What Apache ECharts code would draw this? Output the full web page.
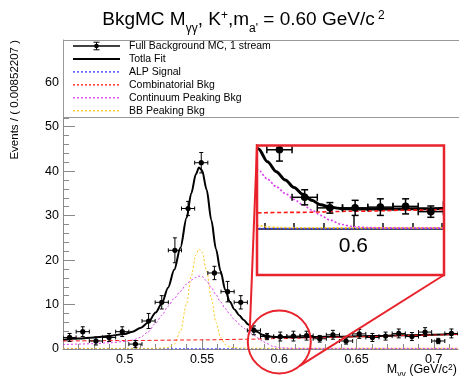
<!DOCTYPE html>
<html><head><meta charset="utf-8">
<script src="https://cdn.jsdelivr.net/npm/echarts@6/dist/echarts.min.js"></script>
<style>html,body{margin:0;padding:0;background:#fff}#c{width:459px;height:376px}</style>
</head><body><div id="c"></div>
<script>
// ---------- data ----------
const binCenters = [0.464261,0.472783,0.481305,0.489827,0.498349,0.506871,0.515393,0.523915,0.532437,0.540959,
  0.549482,0.558004,0.566526,0.575048,0.583570,0.592092,0.600614,0.609136,0.617658,0.626180,
  0.634702,0.643224,0.651746,0.660268,0.668790,0.677312,0.685834,0.694356,0.702878,0.711400];
const binValues = [2.6,3.9,1.8,2.6,3.9,1.1,6.3,10.5,22.2,31.6,
  41.9,17.1,12.9,10.5,4.2,2.8,2.8,2.9,3.0,2.3,
  3.2,1.8,3.4,2.6,2.9,3.5,2.8,3.8,1.8,3.5];
const binErrors = [0.9,1.1,0.9,0.9,1.1,0.8,1.7,1.5,2.8,1.6,
  2.3,1.5,2.3,1.5,1.0,0.7,1.0,1.1,1.0,0.75,
  1.0,0.7,1.0,0.9,0.9,1.0,0.9,1.0,0.6,1.0];
const binWidth = 0.00852207;

const totalX = [0.46,0.47,0.48,0.49,0.50,0.505,0.51,0.515,0.52,0.524,0.528,0.532,0.536,0.54,0.543,0.546,0.548,0.55,0.553,0.556,0.559,0.562,0.565,0.568,0.571,0.574,0.577,0.58,0.583,0.586,0.589,0.592,0.596,0.6,0.61,0.62,0.64,0.66,0.68,0.70,0.715662];
const totalFit = [2.1,2.35,2.6,2.95,3.4,3.9,4.7,5.9,8.2,10.3,13.8,17.8,22.8,29.5,35.0,39.3,40.8,40.2,35.8,29.0,22.5,17.5,13.3,10.6,8.9,7.6,6.5,5.5,4.6,3.8,3.2,2.9,2.7,2.65,2.65,2.68,2.78,2.92,3.07,3.22,3.35];

const alpX = [0.46,0.715662];
const alpSignal = [0.05,0.05];

const combX = [0.46,0.50,0.55,0.58,0.60,0.62,0.65,0.70,0.715662];
const combBkg = [1.8,1.9,2.05,2.2,2.35,2.5,2.75,3.15,3.3];

const contX = [0.46,0.47,0.48,0.49,0.50,0.505,0.51,0.515,0.52,0.524,0.528,0.532,0.536,0.54,0.543,0.546,0.548,0.55,0.553,0.556,0.559,0.562,0.565,0.568,0.571,0.574,0.577,0.58,0.583,0.586,0.589,0.592,0.596,0.6,0.605,0.61,0.65,0.715662];
const contPeakBkg = [1.0,1.1,1.2,1.4,1.7,2.0,2.6,3.8,5.8,7.6,9.6,11.4,13.0,14.6,15.5,16.1,16.4,16.3,15.3,13.8,12.2,10.6,9.1,7.8,6.6,5.6,4.7,3.9,3.2,2.5,1.8,1.2,0.6,0.3,0.2,0.15,0.15,0.15];

const bbX = [0.46,0.52,0.528,0.532,0.536,0.540,0.543,0.546,0.548,0.550,0.553,0.556,0.559,0.562,0.565,0.568,0.571,0.575,0.58,0.60,0.715662];
const bbPeakBkg = [0.15,0.15,0.3,1.1,4.0,10.2,16.3,21.2,22.5,21.8,17.5,11.4,6.0,2.6,1.0,0.45,0.28,0.2,0.17,0.15,0.15];

const xMajorTicks = [0.5,0.55,0.6,0.65,0.7];
const xMinorTicks = [0.47,0.48,0.49,0.51,0.52,0.53,0.54,0.56,0.57,0.58,0.59,0.61,0.62,0.63,0.64,0.66,0.67,0.68,0.69,0.71];
const insetMajorTicks = [0.6];
const insetMinorTicks = [0.57,0.58,0.59,0.61,0.62,0.63];
const legendLabels = ['Full Background MC, 1 stream','Totla Fit','ALP Signal','Combinatorial Bkg','Continuum Peaking Bkg','BB Peaking Bkg'];
const titleText = 'BkgMC M{sub|γγ}, K{sup|+},m{sub|a\'} = 0.60 GeV/c{sup| 2}';
const xTitle = 'M{sub|γγ} (GeV/c{sup|2})';
const yTitle = 'Events / ( 0.00852207 )';

// ---------- styling ----------
const FONT = '"Liberation Sans", Arial, Helvetica, sans-serif';
const C = {total:'#000000', alp:'#3b3bff', comb:'#ff1a1a', cont:'#dd3ef0', bb:'#ffc61a', red:'#e8232b'};
const pair = (xs, ys) => xs.map((x, i) => [x, ys[i]]);
const points = binCenters.map((x, i) => [x, binValues[i], binErrors[i]]);

function pointRenderer(r, lw, cap) {
  return function (params, api) {
    const x = api.value(0), y = api.value(1), e = api.value(2);
    const c = api.coord([x, y]);
    const lo = api.coord([x - binWidth / 2, y]);
    const hi = api.coord([x + binWidth / 2, y]);
    const t = api.coord([x, y + e]);
    const b = api.coord([x, y - e]);
    const st = {stroke:'#000', lineWidth:lw};
    return {type:'group', children:[
      {type:'line', shape:{x1:lo[0], y1:c[1], x2:hi[0], y2:c[1]}, style:st},
      {type:'line', shape:{x1:c[0], y1:t[1], x2:c[0], y2:b[1]}, style:st},
      {type:'line', shape:{x1:lo[0], y1:c[1]-cap, x2:lo[0], y2:c[1]+cap}, style:st},
      {type:'line', shape:{x1:hi[0], y1:c[1]-cap, x2:hi[0], y2:c[1]+cap}, style:st},
      {type:'line', shape:{x1:c[0]-cap, y1:t[1], x2:c[0]+cap, y2:t[1]}, style:st},
      {type:'line', shape:{x1:c[0]-cap, y1:b[1], x2:c[0]+cap, y2:b[1]}, style:st},
      {type:'circle', shape:{cx:c[0], cy:c[1], r:r}, style:{fill:'#000'}}
    ]};
  };
}

function curveSeries(xi, yi, main) {
  const w = main ? 1 : 1.6;
  const base = {type:'line', xAxisIndex:xi, yAxisIndex:yi, showSymbol:false, symbol:'none', smooth:0.3, smoothMonotone:'x', silent:true, animation:false, clip:true};
  return [
    Object.assign({}, base, {name:'total', data:pair(totalX,totalFit), lineStyle:{color:C.total, width: main ? 2 : 3}, z:3}),
    Object.assign({}, base, {name:'alp', data:pair(alpX,alpSignal), lineStyle:{color:C.alp, width:w, type:[2,2]}, z:4}),
    Object.assign({}, base, {name:'bb', data:pair(bbX,bbPeakBkg), lineStyle:{color:C.bb, width:w, type:[2,2]}, z:4}),
    Object.assign({}, base, {name:'cont', data:pair(contX,contPeakBkg), lineStyle:{color:C.cont, width:w, type:[2,2]}, z:4}),
    Object.assign({}, base, {name:'comb', data:pair(combX,combBkg), lineStyle:{color:C.comb, width:w, type:[4,2.5]}, z:4}),
    {type:'custom', xAxisIndex:xi, yAxisIndex:yi, data:points, clip:true, silent:true, animation:false, z:5,
      renderItem: main ? pointRenderer(2.6, 1, 2) : pointRenderer(3.8, 1.5, 3.5)}
  ];
}

const chart = echarts.init(document.getElementById('c'), null, {renderer:'canvas'});
const axisGrey = '#8a8a8a';
chart.setOption({
  animation:false,
  backgroundColor:'#fff',
  textStyle:{fontFamily:FONT},
  grid:[
    {left:63, top:40, right:1, bottom:27, containLabel:false},
    {left:258, top:146, width:185, height:83, containLabel:false}
  ],
  xAxis:[
    {gridIndex:0, type:'value', min:0.46, max:0.715662, position:'bottom',
      axisLine:{show:true, onZero:false, lineStyle:{color:axisGrey, width:1}},
      axisTick:{show:true, inside:true, length:10, customValues:xMajorTicks, lineStyle:{color:axisGrey}},
      axisLabel:{show:true, customValues:xMajorTicks, fontSize:12.5, color:'#000', margin:4, fontFamily:FONT, formatter:v => String(v)},
      splitLine:{show:false}},
    {gridIndex:0, type:'value', min:0.46, max:0.715662, position:'bottom',
      axisLine:{show:false, onZero:false},
      axisTick:{show:true, inside:true, length:5, customValues:xMinorTicks, lineStyle:{color:axisGrey}},
      axisLabel:{show:false}, splitLine:{show:false}},
    {gridIndex:1, type:'value', min:0.5678, max:0.6303, position:'bottom',
      axisLine:{show:true, onZero:false, lineStyle:{color:'#111', width:1.5}},
      axisTick:{show:true, inside:true, length:14, customValues:insetMajorTicks, lineStyle:{color:'#111', width:1.5}},
      axisLabel:{show:true, customValues:insetMajorTicks, fontSize:21, color:'#000', margin:7, fontFamily:FONT, formatter:v => String(v)},
      splitLine:{show:false}},
    {gridIndex:1, type:'value', min:0.5678, max:0.6303, position:'bottom',
      axisLine:{show:false, onZero:false},
      axisTick:{show:true, inside:true, length:6, customValues:insetMinorTicks, lineStyle:{color:'#111', width:1.5}},
      axisLabel:{show:false}, splitLine:{show:false}}
  ],
  yAxis:[
    {gridIndex:0, type:'value', min:0, max:69.5, interval:10, position:'left',
      axisLine:{show:true, onZero:false, lineStyle:{color:axisGrey, width:1}},
      axisTick:{show:true, inside:true, length:12, lineStyle:{color:axisGrey}},
      minorTick:{show:true, splitNumber:5, length:6, lineStyle:{color:axisGrey}},
      axisLabel:{fontSize:12.5, color:'#000', margin:4, fontFamily:FONT, showMaxLabel:false},
      splitLine:{show:false}, minorSplitLine:{show:false}},
    {gridIndex:1, type:'value', min:0, max:11, show:false, splitLine:{show:false}}
  ],
  series:[].concat(curveSeries(0,0,true), curveSeries(2,1,false))
});

// ---------- annotations ----------
const g = [];
g.push({type:'line', shape:{x1:63, y1:40.5, x2:459, y2:40.5}, style:{stroke:axisGrey, lineWidth:1}, z:40});
g.push({type:'rect', shape:{x:63.5, y:40.5, width:396, height:77}, style:{fill:'#fff', stroke:'#999', lineWidth:1}, z:50});
const legendStyles = [
  {stroke:'#000', lineWidth:1.5},
  {stroke:'#000', lineWidth:2},
  {stroke:C.alp, lineWidth:1.3, lineDash:[2,2]},
  {stroke:C.comb, lineWidth:1.3, lineDash:[2,2]},
  {stroke:C.cont, lineWidth:1.3, lineDash:[2,2]},
  {stroke:C.bb, lineWidth:1.3, lineDash:[2,2]}
];
legendLabels.forEach((lab, i) => {
  const y = 46 + 12.95 * i;
  g.push({type:'line', shape:{x1:73, y1:y, x2:120, y2:y}, style:legendStyles[i], z:51});
  if (i === 0) {
    g.push({type:'line', shape:{x1:96.5, y1:y-3.8, x2:96.5, y2:y+3.8}, style:{stroke:'#000', lineWidth:1}, z:51});
    g.push({type:'line', shape:{x1:93.5, y1:y-3.8, x2:99.5, y2:y-3.8}, style:{stroke:'#000', lineWidth:1}, z:51});
    g.push({type:'line', shape:{x1:93.5, y1:y+3.8, x2:99.5, y2:y+3.8}, style:{stroke:'#000', lineWidth:1}, z:51});
    g.push({type:'circle', shape:{cx:96.5, cy:y, r:2.3}, style:{fill:'#000'}, z:52});
  }
  g.push({type:'text', x:129, y:y, style:{text:lab, fontSize:10.5, fontFamily:FONT, fill:'#000', align:'left', verticalAlign:'middle'}, z:52});
});
g.push({type:'text', x:243.5, y:20, style:{text:titleText, fontSize:19, fontFamily:FONT, fill:'#000', align:'center', verticalAlign:'middle', lineHeight:30,
  rich:{sub:{fontSize:12, fontFamily:FONT, fill:'#000', verticalAlign:'bottom', lineHeight:15},
        sup:{fontSize:12, fontFamily:FONT, fill:'#000', verticalAlign:'top', lineHeight:14, padding:[5,0,0,0]}}}, z:60});
g.push({type:'text', x:457, y:370, style:{text:xTitle, fontSize:12.5, fontFamily:FONT, fill:'#000', align:'right', verticalAlign:'middle', lineHeight:18,
  rich:{sub:{fontSize:8.5, fontFamily:FONT, fill:'#000', verticalAlign:'bottom', lineHeight:9},
        sup:{fontSize:8.5, fontFamily:FONT, fill:'#000', verticalAlign:'top', lineHeight:9, padding:[2,0,0,0]}}}, z:60});
g.push({type:'text', x:15, y:40, rotation:Math.PI/2, style:{text:yTitle, fontSize:11.5, fontFamily:FONT, fill:'#000', align:'right', verticalAlign:'middle'}, z:60});

g.push({type:'rect', shape:{x:257, y:145.5, width:187, height:129.5}, style:{fill:'#fff'}, z:0});
g.push({type:'rect', shape:{x:257, y:145.5, width:187, height:129.5}, style:{fill:'none', stroke:C.red, lineWidth:2.5}, z:20});
const cc = chart.convertToPixel({xAxisIndex:0, yAxisIndex:0}, [0.6, 1.6]);
g.push({type:'circle', shape:{cx:cc[0], cy:cc[1], r:31.5}, style:{fill:'none', stroke:C.red, lineWidth:2}, z:20});
g.push({type:'line', shape:{x1:cc[0]-29.5, y1:cc[1]-12, x2:257, y2:146}, style:{stroke:C.red, lineWidth:2}, z:20});
g.push({type:'line', shape:{x1:cc[0]+20.5, y1:cc[1]+24, x2:444, y2:275}, style:{stroke:C.red, lineWidth:2}, z:20});

chart.setOption({graphic:{elements:g}});
</script>
</body></html>
